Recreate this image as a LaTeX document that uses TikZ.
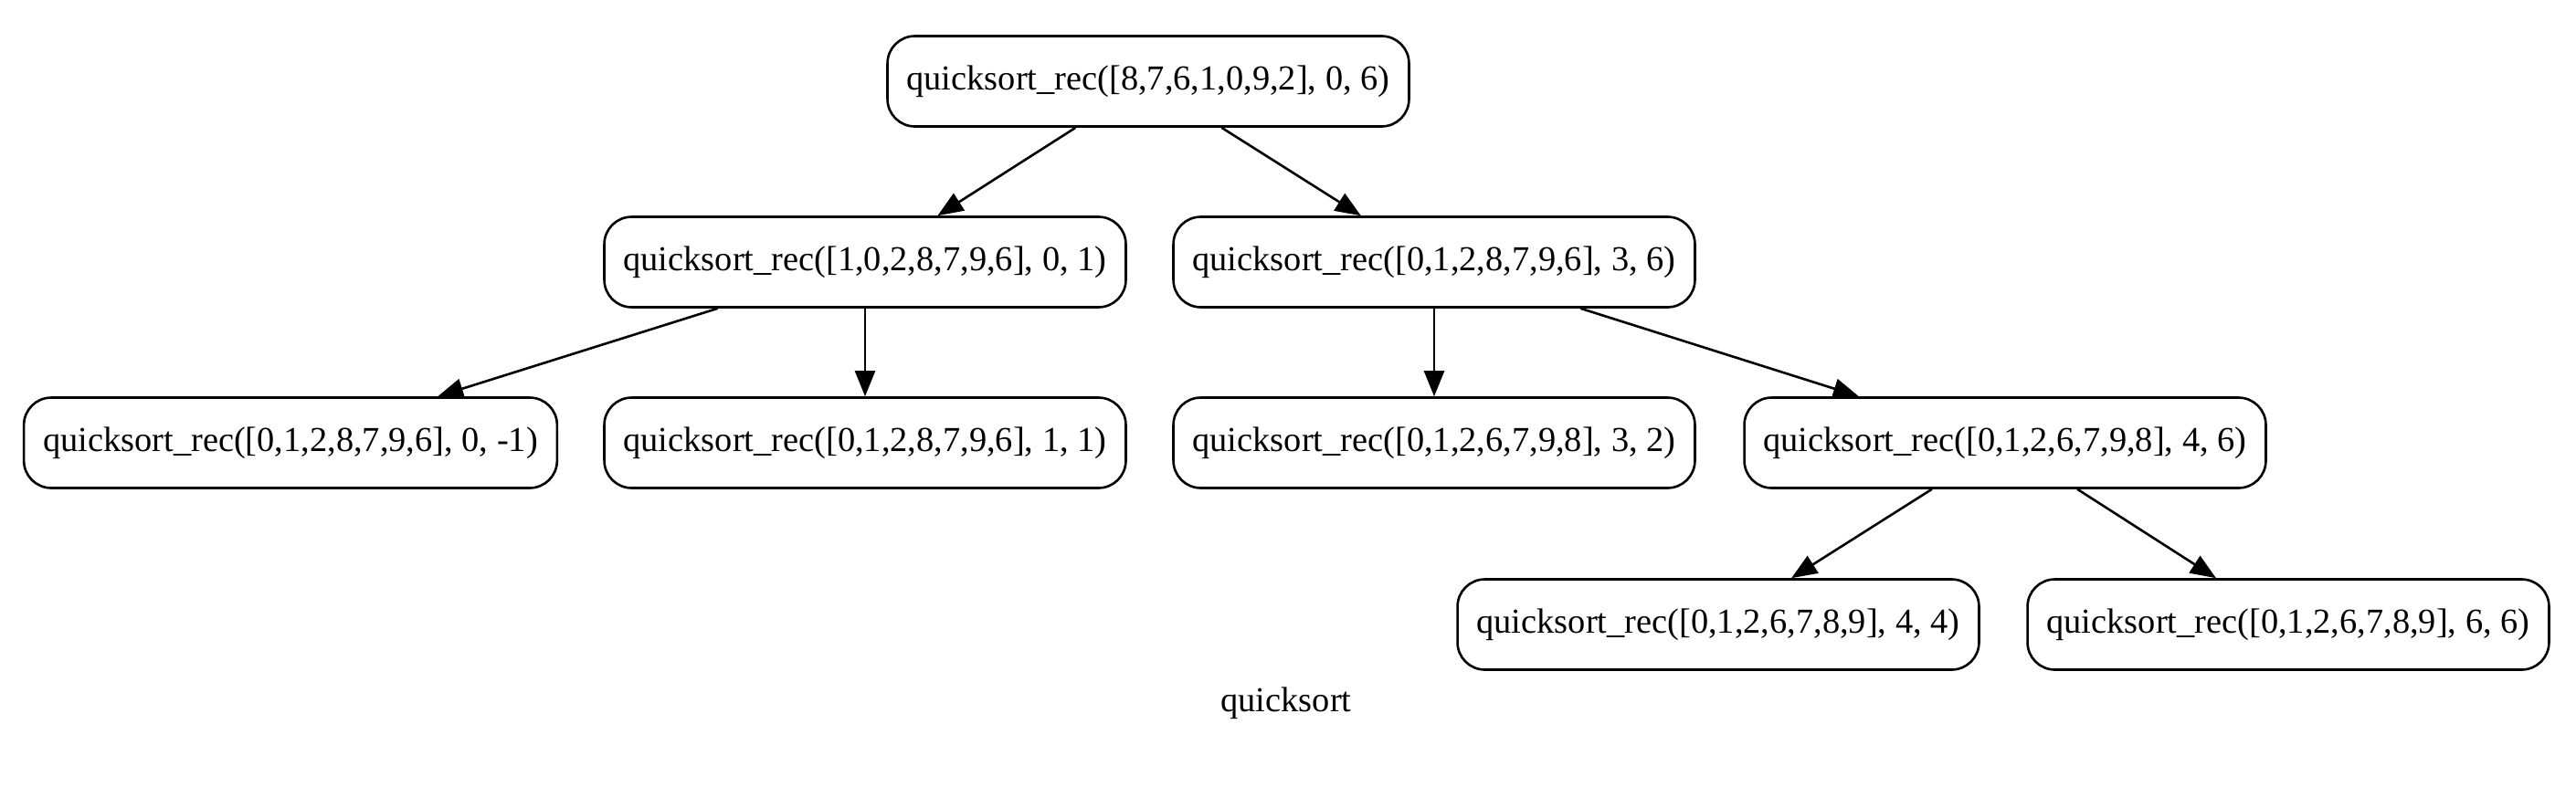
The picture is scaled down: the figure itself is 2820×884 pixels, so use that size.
\documentclass[tikz,border=0pt]{standalone}
\usepackage{fontspec}
\setmainfont{Liberation Serif}
\usetikzlibrary{arrows.meta}
\begin{document}
\begin{tikzpicture}[x=0.5pt,y=-0.5pt,
  call/.style={draw, line width=1.3pt, rounded corners=15pt, minimum height=49.5pt,
    inner xsep=10.5pt, inner ysep=0pt, font=\fontsize{19.2}{23}\selectfont},
  edge/.style={draw, line width=1.3pt, -{Triangle[length=14pt,width=11pt]}},
  lbl/.style={font=\fontsize{19.2}{23}\selectfont, inner sep=0pt}]
\useasboundingbox (0,0) rectangle (2820,884);
\node[call] (n0) at (1257,89) {quicksort\_rec([8,7,6,1,0,9,2], 0, 6)};
\node[call] (n1) at (947,287) {quicksort\_rec([1,0,2,8,7,9,6], 0, 1)};
\node[call] (n2) at (1570,287) {quicksort\_rec([0,1,2,8,7,9,6], 3, 6)};
\node[call] (n3) at (318,485) {quicksort\_rec([0,1,2,8,7,9,6], 0, -1)};
\node[call] (n4) at (947,485) {quicksort\_rec([0,1,2,8,7,9,6], 1, 1)};
\node[call] (n5) at (1570,485) {quicksort\_rec([0,1,2,6,7,9,8], 3, 2)};
\node[call] (n6) at (2195,485) {quicksort\_rec([0,1,2,6,7,9,8], 4, 6)};
\node[call] (n7) at (1881,684) {quicksort\_rec([0,1,2,6,7,8,9], 4, 4)};
\node[call] (n8) at (2505,684) {quicksort\_rec([0,1,2,6,7,8,9], 6, 6)};
\node[lbl] (title) at (1408,770) {quicksort};
\draw[edge] (n0) -- (n1);
\draw[edge] (n0) -- (n2);
\draw[edge] (n1) -- (n3);
\draw[edge] (n1) -- (n4);
\draw[edge] (n2) -- (n5);
\draw[edge] (n2) -- (n6);
\draw[edge] (n6) -- (n7);
\draw[edge] (n6) -- (n8);
\end{tikzpicture}
\end{document}
